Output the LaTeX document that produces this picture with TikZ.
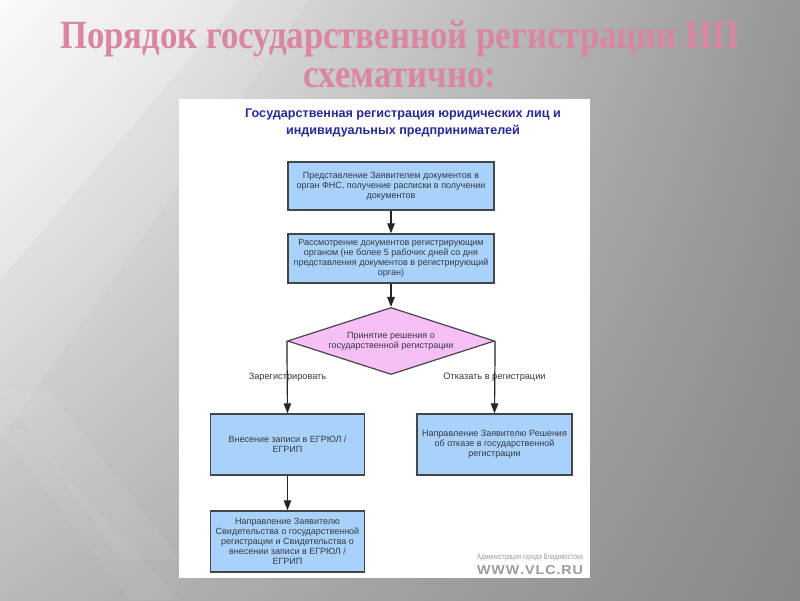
\documentclass[tikz,border=0pt]{standalone}
\usepackage{fontspec}
\setmainfont{Liberation Serif}
\setsansfont{Liberation Sans}
\usetikzlibrary{shapes.geometric,arrows.meta,shadings}
\definecolor{titlepink}{RGB}{217,134,158}
\definecolor{boxblue}{RGB}{168,210,250}
\definecolor{diapink}{RGB}{246,192,246}
\definecolor{edge}{RGB}{70,70,70}
\definecolor{txt}{RGB}{55,55,65}
\definecolor{headblue}{RGB}{40,40,150}
\definecolor{wmgray}{RGB}{155,155,155}
\definecolor{bgul}{RGB}{250,250,250}
\definecolor{bgur}{RGB}{150,150,150}
\definecolor{bgll}{RGB}{185,185,185}
\definecolor{bglr}{RGB}{135,135,135}
\tikzset{
  stepbox/.style={rectangle,draw=edge,line width=1.4pt,fill=boxblue,inner sep=1pt,
    align=center,text=txt,font=\sffamily\fontsize{9}{10}\selectfont},
  decision/.style={diamond,draw=edge,line width=1.2pt,fill=diapink,inner sep=0pt,
    aspect=3.09,align=center,text=txt,font=\sffamily\fontsize{9}{10}\selectfont},
  arr/.style={draw=black!85,line width=1.2pt,-{Triangle[length=10pt,width=7.5pt]}},
  lbl/.style={text=txt,font=\sffamily\fontsize{9.2}{10}\selectfont,inner sep=0pt},
}
\begin{document}
\begin{tikzpicture}[x=1pt,y=-1pt]
\useasboundingbox (0,0) rectangle (800,600);
% background
\shade[upper left=bgul,upper right=bgur,lower left=bgll,lower right=bglr]
  (0,0) rectangle (800,600);
\fill[white,opacity=0.22] (0,0) -- (240,0) -- (0,280) -- cycle;
\fill[white,opacity=0.10] (0,120) -- (120,0) -- (310,0) -- (0,440) -- cycle;
\fill[white,opacity=0.06] (0,390) -- (50,390) -- (180,560) -- (120,560) -- cycle;
\fill[white,opacity=0.05] (0,430) -- (25,430) -- (180,600) -- (130,600) -- cycle;
% title
\node[text=titlepink,inner sep=0pt] (t1) at (400,39)
  {\scalebox{0.87}[1]{\fontsize{40}{44}\selectfont\bfseries Порядок государственной регистрации ИП}};
\node[text=titlepink,inner sep=0pt] (t2) at (400,78)
  {\scalebox{0.87}[1]{\fontsize{40}{44}\selectfont\bfseries схематично:}};
% panel
\fill[white] (179,99) rectangle (590,578);
% header
\node[text=headblue,align=center,font=\sffamily\bfseries\fontsize{12.6}{17}\selectfont] (hdr) at (403,123)
  {Государственная регистрация юридических лиц и\\индивидуальных предпринимателей};
% flow
\node[stepbox,minimum width=206pt,minimum height=48pt] (b1) at (391,186)
  {Представление Заявителем документов в\\орган ФНС, получение расписки в получении\\документов};
\node[stepbox,minimum width=206pt,minimum height=49pt] (b2) at (391,258.5)
  {Рассмотрение документов регистрирующим\\органом (не более 5 рабочих дней со дня\\представления документов в регистрирующий\\орган)};
\node[decision,minimum width=207pt,minimum height=67pt] (d) at (391,341)
  {Принятие решения о\\государственной регистрации};
\node[stepbox,minimum width=154pt,minimum height=61pt] (b3) at (287.5,444.5)
  {Внесение записи в ЕГРЮЛ /\\ЕГРИП};
\node[stepbox,minimum width=155pt,minimum height=61pt] (b4) at (494.5,444.5)
  {Направление Заявителю Решения\\об отказе в государственной\\регистрации};
\node[stepbox,minimum width=154pt,minimum height=61pt] (b5) at (287.5,541.5)
  {Направление Заявителю\\Свидетельства о государственной\\регистрации и Свидетельства о\\внесении записи в ЕГРЮЛ /\\ЕГРИП};
\draw[arr] (b1) -- (b2);
\draw[arr] (b2) -- (d);
\draw[arr] (d.west) -- (b3.north);
\draw[arr] (d.east) -- (b4.north);
\draw[arr] (b3) -- (b5);
\node[lbl] (l1) at (287.5,377) {Зарегистрировать};
\node[lbl] (l2) at (494.5,377) {Отказать в регистрации};
% watermark
\node[text=wmgray,inner sep=0pt] (w1) at (530,558)
  {\resizebox{106pt}{5.5pt}{\sffamily\fontsize{7.5}{8}\selectfont Администрация города Владивостока}};
\node[text=wmgray,inner sep=0pt] (w2) at (530,570.5)
  {\resizebox{106pt}{9pt}{\sffamily\bfseries\fontsize{9}{10}\selectfont W\kern0.6pt W\kern0.6pt W\kern0.6pt.\kern0.6pt V\kern0.6pt L\kern0.6pt C\kern0.6pt.\kern0.6pt R\kern0.6pt U}};
\end{tikzpicture}
\end{document}
